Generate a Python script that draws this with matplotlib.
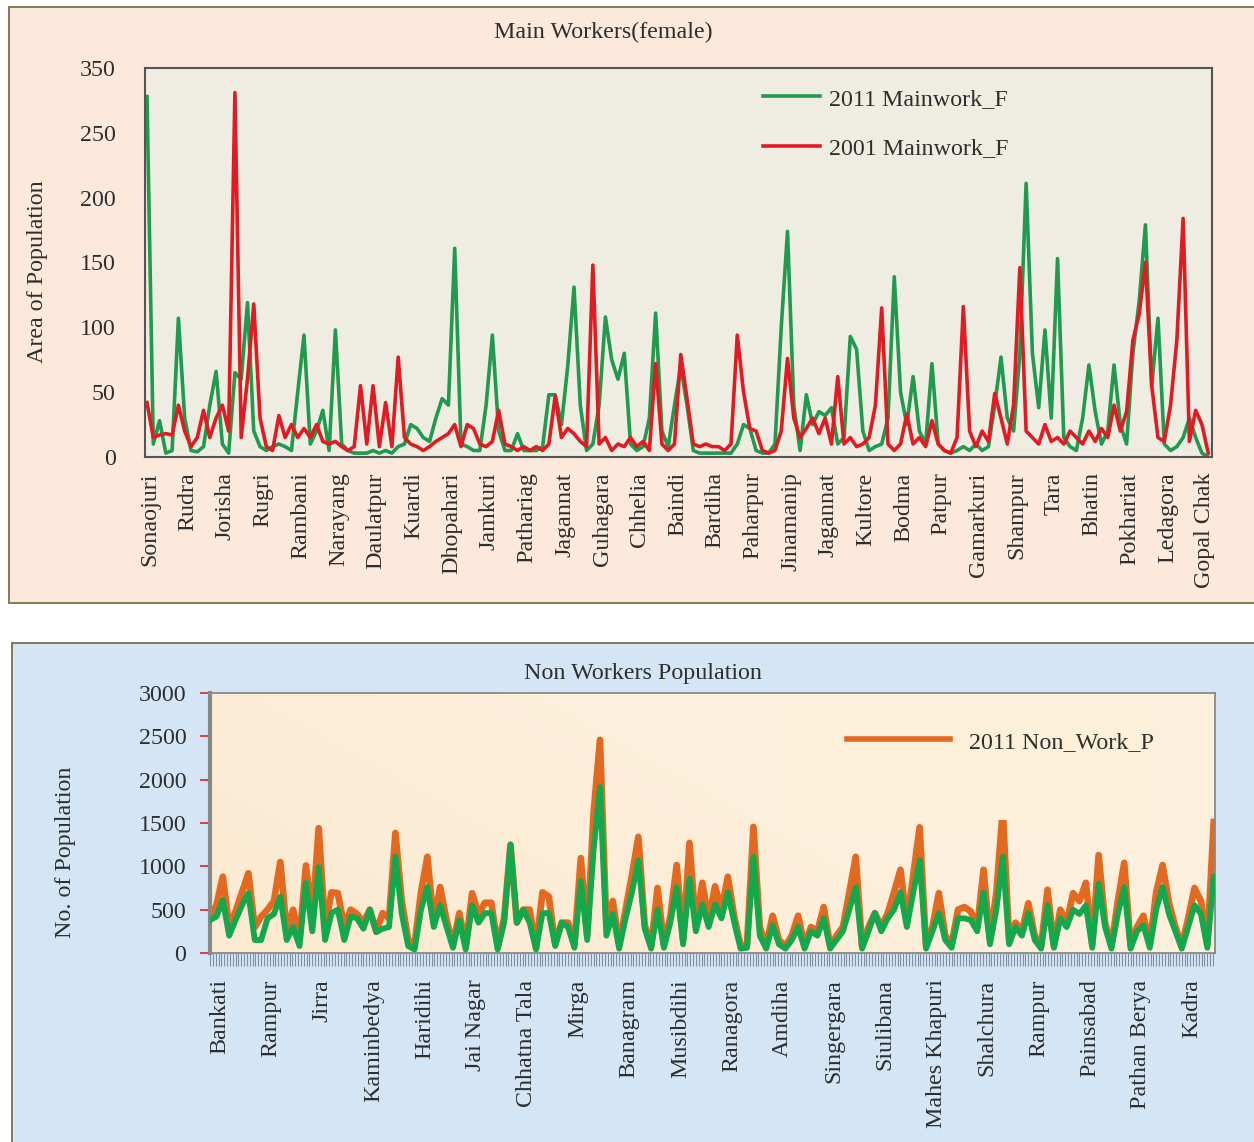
import numpy as np
import matplotlib
matplotlib.use('Agg')
import matplotlib.pyplot as plt
from matplotlib.patches import Rectangle

W, H = 1254, 1142
plt.rcParams['font.family'] = ['Liberation Serif', 'DejaVu Serif']

# ---------------- data: top chart ----------------
top_labels = ['Sonaojuri', 'Rudra', 'Jorisha', 'Rugri', 'Rambani', 'Narayang',
              'Daulatpur', 'Kuardi', 'Dhopahari', 'Jamkuri', 'Pathariag', 'Jagannat',
              'Guhagara', 'Chhelia', 'Baindi', 'Bardiha', 'Paharpur', 'Jinamanip',
              'Jagannat', 'Kultore', 'Bodma', 'Patpur', 'Gamarkuri', 'Shampur', 'Tara',
              'Bhatin', 'Pokhariat', 'Ledagora', 'Gopal Chak']
top_ytick_values = [0, 50, 100, 150, 200, 250, 300]
top_ytick_labels = ['0', '50', '100', '150', '200', '250', '350']

mainwork_2011 = [
    278, 10, 28, 3, 5, 107, 30, 5, 4, 8,
    40, 66, 10, 3, 65, 60, 119, 20, 8, 5,
    8, 10, 8, 5, 50, 94, 10, 20, 36, 5,
    98, 10, 5, 3, 3, 3, 5, 3, 5, 3,
    8, 10, 25, 22, 15, 12, 30, 45, 40, 161,
    10, 8, 5, 5, 40, 94, 20, 5, 5, 18,
    5, 5, 5, 8, 48, 48, 25, 70, 131, 40,
    5, 10, 40, 108, 75, 60, 80, 10, 5, 8,
    30, 111, 20, 8, 40, 70, 40, 5, 3, 3,
    3, 3, 3, 3, 10, 25, 22, 5, 3, 3,
    10, 100, 174, 40, 5, 48, 25, 35, 32, 38,
    10, 15, 93, 83, 20, 5, 8, 10, 30, 139,
    50, 25, 62, 20, 10, 72, 10, 5, 3, 5,
    8, 5, 10, 5, 8, 40, 77, 30, 20, 80,
    211, 80, 38, 98, 30, 153, 15, 8, 5, 30,
    71, 35, 10, 20, 71, 25, 10, 80, 120, 179,
    55, 107, 10, 5, 8, 15, 30, 15, 3, 0]

mainwork_2001 = [
    42, 15, 17, 18, 17, 40, 20, 8, 15, 36,
    15, 30, 40, 20, 281, 15, 60, 118, 30, 8,
    5, 32, 15, 25, 15, 22, 15, 25, 12, 10,
    12, 8, 5, 8, 55, 10, 55, 8, 42, 8,
    77, 15, 10, 8, 5, 8, 12, 15, 18, 25,
    8, 25, 22, 10, 8, 12, 36, 10, 8, 5,
    8, 5, 8, 5, 10, 47, 15, 22, 18, 12,
    8, 148, 10, 15, 5, 10, 8, 15, 8, 12,
    5, 72, 10, 5, 10, 79, 45, 10, 8, 10,
    8, 8, 5, 10, 94, 50, 22, 20, 5, 3,
    5, 20, 76, 30, 15, 22, 30, 18, 30, 10,
    62, 10, 15, 8, 10, 15, 40, 115, 10, 5,
    10, 33, 10, 15, 8, 28, 10, 5, 3, 15,
    116, 20, 8, 20, 12, 49, 30, 10, 40, 146,
    20, 15, 10, 25, 12, 15, 10, 20, 15, 10,
    20, 12, 22, 15, 40, 20, 35, 90, 110, 150,
    55, 15, 12, 40, 90, 184, 12, 36, 25, 3]

# ---------------- data: bottom chart ----------------
bottom_labels = ['Bankati', 'Rampur', 'Jirra', 'Kaminbedya', 'Haridihi', 'Jai Nagar',
                 'Chhatna Tala', 'Mirga', 'Banagram', 'Musibdihi', 'Ranagora', 'Amdiha',
                 'Singergara', 'Siulibana', 'Mahes Khapuri', 'Shalchura', 'Rampur',
                 'Painsabad', 'Pathan Berya', 'Kadra']
bottom_ytick_values = [0, 500, 1000, 1500, 2000, 2500, 3000]

nonwork_2011 = [
    400, 550, 880, 300, 480, 700, 920, 300, 420, 500,
    600, 1050, 250, 500, 150, 1010, 400, 1440, 300, 700,
    690, 300, 500, 450, 350, 500, 250, 460, 400, 1385,
    600, 150, 100, 700, 1110, 350, 760, 380, 100, 460,
    80, 690, 450, 580, 580, 80, 400, 1250, 350, 500,
    500, 60, 700, 650, 100, 350, 350, 100, 1095, 200,
    1615, 2460, 300, 600, 100, 500, 900, 1340, 320, 80,
    750, 100, 420, 1015, 150, 1270, 300, 810, 380, 770,
    500, 880, 420, 80, 100, 1455, 300, 80, 430, 150,
    80, 200, 430, 80, 300, 250, 530, 80, 200, 300,
    700, 1110, 80, 300, 460, 300, 460, 700, 960, 350,
    900, 1450, 80, 300, 690, 200, 100, 500, 530, 480,
    300, 960, 150, 700, 1650, 150, 350, 250, 575, 200,
    80, 730, 80, 500, 350, 690, 600, 810, 100, 1130,
    350, 80, 600, 1040, 80, 300, 430, 100, 700, 1015,
    580, 300, 80, 400, 750, 600, 100, 1510]

nonwork_green = [
    380, 420, 610, 200, 380, 550, 690, 150, 150, 400,
    450, 650, 150, 300, 80, 810, 250, 990, 150, 460,
    500, 150, 420, 400, 280, 500, 240, 280, 300, 1110,
    450, 80, 40, 500, 760, 300, 550, 300, 60, 380,
    40, 550, 350, 460, 460, 40, 350, 1250, 350, 500,
    350, 40, 460, 460, 80, 350, 300, 60, 830, 150,
    1190, 1915, 200, 450, 50, 400, 700, 1070, 280, 50,
    500, 60, 350, 760, 100, 860, 250, 560, 300, 560,
    400, 700, 350, 50, 60, 1110, 200, 50, 320, 100,
    50, 150, 300, 50, 250, 200, 400, 50, 150, 250,
    500, 760, 50, 250, 460, 250, 400, 500, 700, 300,
    700, 1070, 50, 250, 460, 150, 60, 400, 400, 380,
    250, 700, 100, 500, 1110, 100, 300, 200, 460, 150,
    50, 550, 60, 400, 300, 500, 450, 550, 60, 800,
    300, 50, 450, 760, 50, 250, 320, 60, 500, 760,
    450, 250, 50, 300, 550, 450, 60, 880]

TXT = '#2e2e2e'
FS = 17.3

fig = plt.figure(figsize=(W / 100, H / 100), dpi=100)
fig.patch.set_facecolor('white')


def fr(x0, y0, x1, y1):
    return [x0 / W, 1 - y1 / H, (x1 - x0) / W, (y1 - y0) / H]


def panel(x0, y0, x1, y1, fc):
    r = Rectangle((x0 / W, 1 - y1 / H), (x1 - x0) / W, (y1 - y0) / H,
                  transform=fig.transFigure, facecolor=fc, edgecolor='#857a55',
                  linewidth=1.4, zorder=-10)
    fig.add_artist(r)


panel(9, 7, 1264, 603, '#fde9dc')
panel(12, 643, 1264, 1152, '#d4e6f5')

# ---------------- top chart ----------------
ax1 = fig.add_axes(fr(145, 68, 1212, 457))
ax1.set_facecolor('#efede2')
x1 = np.arange(len(mainwork_2011))
lg, = ax1.plot(x1, mainwork_2011, color='#1f9a4e', lw=2.6, label='2011 Mainwork_F')
lr, = ax1.plot(x1, mainwork_2001, color='#e11b22', lw=2.6, label='2001 Mainwork_F')
ax1.set_xlim(-0.32, 169.6)
ax1.set_ylim(0, 300)
ax1.set_yticks(top_ytick_values)
ax1.set_yticklabels(top_ytick_labels)
ax1.set_xticks(0.48 + 6 * np.arange(len(top_labels)))
ax1.set_xticklabels(top_labels, rotation=90)
ax1.tick_params(axis='both', length=0, labelsize=FS, labelcolor=TXT)
ax1.tick_params(axis='y', pad=21)
ax1.tick_params(axis='x', pad=11)
for s in ax1.spines.values():
    s.set_color('#555555')
    s.set_linewidth(1.5)
ax1.legend(handles=[lg, lr], loc='upper left', bbox_to_anchor=(0.579, 0.9486),
           frameon=False, fontsize=FS, handlelength=2.4, handletextpad=0.35,
           labelspacing=1.15, borderpad=0, borderaxespad=0, labelcolor=TXT)

fig.text(603 / W, 1 - 32 / H, 'Main Workers(female)', ha='center', va='center',
         fontsize=FS, color=TXT)
fig.text(38 / W, 1 - 272 / H, 'Area of Population', ha='center', va='center',
         rotation=90, fontsize=FS, color=TXT)

# ---------------- bottom chart ----------------
ax2 = fig.add_axes(fr(210, 693, 1215, 953))
ax2.set_facecolor('#fdf0dc')
# soft background shading of the plot area
gy, gx = np.mgrid[0:1:60j, 0:1:120j]
base = np.array([0.992, 0.945, 0.870])
warm = np.array([0.985, 0.890, 0.780])
wgt = np.clip((1 - gx) * 0.55 + (1 - gy) * 0.25 - 0.25, 0, 1)[..., None]
img = base * (1 - wgt) + warm * wgt
ax2.imshow(img, extent=(0, 1, 0, 1), transform=ax2.transAxes, aspect='auto',
           zorder=0, interpolation='bilinear', origin='lower')
x2 = np.arange(len(nonwork_2011))
lo, = ax2.plot(x2, nonwork_2011, color='#e2691f', lw=4.8, label='2011 Non_Work_P',
               solid_joinstyle='round', zorder=2)
ax2.plot(x2, nonwork_green, color='#12a84b', lw=4.2, solid_joinstyle='round', zorder=3)
ax2.set_xlim(0, 157.2)
ax2.set_ylim(0, 3000)
ax2.set_yticks(bottom_ytick_values)
ax2.set_xticks(1.56 + 8 * np.arange(len(bottom_labels)))
ax2.set_xticklabels(bottom_labels, rotation=90)
ax2.set_xticks(np.arange(0, 157.2, 8 / 18), minor=True)
ax2.tick_params(axis='y', length=7, width=1.2, color='#e02020', pad=10,
                labelsize=FS, labelcolor=TXT)
ax2.tick_params(axis='x', which='major', length=0, pad=19, labelsize=FS, labelcolor=TXT)
ax2.tick_params(axis='x', which='minor', length=9, width=0.8, color='#7f8fa0')
for k, s in ax2.spines.items():
    s.set_color('#888888')
    s.set_linewidth(1.3)
ax2.spines['left'].set_linewidth(3)
ax2.add_patch(Rectangle((0.577, 0.5115), 0.358, 0.4155, transform=ax2.transAxes,
                        facecolor='#fdf0d8', edgecolor='none', zorder=5))
leg2 = ax2.legend(handles=[lo], loc='upper left', bbox_to_anchor=(0.634, 0.854),
                  frameon=False, fontsize=FS, handlelength=4.3, handletextpad=0.75,
                  borderpad=0, borderaxespad=0, labelcolor=TXT)
leg2.set_zorder(6)
leg2.get_lines()[0].set_linewidth(4.0)

fig.text(643 / W, 1 - 673 / H, 'Non Workers Population', ha='center', va='center',
         fontsize=FS, color=TXT)
fig.text(65 / W, 1 - 852 / H, 'No. of Population', ha='center', va='center',
         rotation=90, fontsize=FS, color=TXT)

fig.savefig('out.png', dpi=100)
